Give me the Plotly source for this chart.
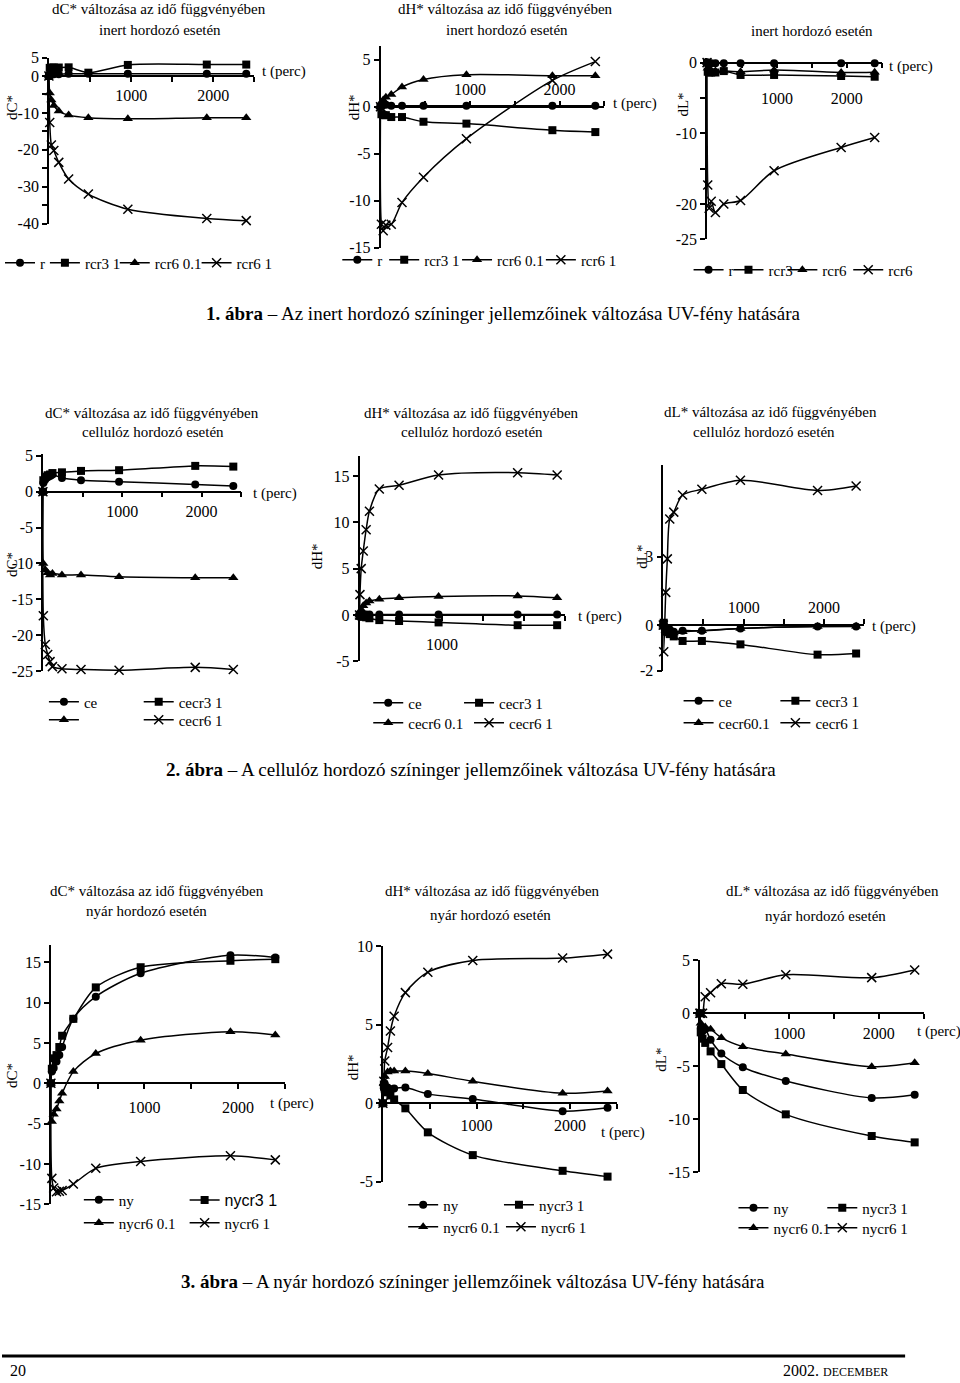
import plotly.graph_objects as go

W, H = 960, 1383
SERIF = "Liberation Serif"
SANS = "Liberation Sans"

# ---------------- data (time in minutes) ----------------
# Figure 1 - inert carrier
T_IN = [0, 10, 30, 60, 120, 240, 480, 960, 1920, 2400]
IN_C_R = [0, 0.4, 0.5, 0.5, 0.5, 0.6, 0.6, 0.6, 0.6, 0.6]
IN_C_RCR3 = [0, 2.2, 2.3, 2.3, 2.3, 2.35, 0.9, 3.0, 3.1, 3.1]
IN_C_RCR6_01 = [0, -4.6, -6.5, -8.0, -9.5, -10.6, -11.3, -11.6, -11.3, -11.3]
IN_C_RCR6_1 = [0, -12.6, -18.7, -20.2, -23.4, -27.9, -32.0, -36.1, -38.6, -39.2]

IN_H_R = [0, 0.2, 0.3, 0.2, 0.1, 0.1, 0.1, 0.1, 0.1, 0.1]
IN_H_RCR3 = [0, -0.8, -0.9, -0.9, -1.1, -1.1, -1.6, -1.8, -2.5, -2.7]
IN_H_RCR6_01 = [0, 0.4, 0.7, 1.0, 1.3, 2.1, 2.9, 3.4, 3.3, 3.3]
IN_H_RCR6_1 = [0, -12.5, -13.2, -12.6, -12.5, -10.2, -7.5, -3.4, 2.8, 4.8]

IN_L_R = [0, -0.1, -0.1, -0.1, -0.1, -0.1, -0.1, -0.1, -0.1, -0.1]
IN_L_RCR3 = [0, -1.3, -1.4, -1.4, -1.4, -1.2, -1.75, -1.75, -1.9, -2.0]
IN_L_RCR6_01 = [0, -0.8, -1.0, -1.1, -1.2, -1.2, -1.3, -1.05, -1.4, -1.35]
IN_L_RCR6_1 = [0, -17.3, -20.6, -19.6, -21.2, -20.0, -19.5, -15.3, -12.0, -10.6]

# Figure 2 - cellulose carrier
T_CE_C = [0, 5, 30, 60, 90, 120, 240, 480, 960, 1920, 2400]
CE_C_CE = [0, 1.2, 1.7, 2.0, 2.2, 2.4, 1.9, 1.6, 1.4, 1.0, 0.8]
CE_C_CR3 = [0, 1.6, 2.1, 2.3, 2.4, 2.6, 2.7, 2.9, 3.0, 3.6, 3.5]
CE_C_CR6_01 = [0, -10.0, -10.9, -11.3, -11.6, -11.4, -11.6, -11.6, -11.85, -12.0, -12.0]
CE_C_CR6_1 = [0, -17.3, -21.3, -22.7, -23.7, -24.4, -24.7, -24.8, -24.9, -24.5, -24.8]

T_CE_H = [0, 5, 20, 45, 80, 120, 240, 480, 960, 1920, 2400]
CE_H_CE = [0, 0.0, 0.05, 0.05, 0.05, 0.05, 0.05, 0.05, 0.05, 0.05, 0.05]
CE_H_CR3 = [0, -0.1, -0.15, -0.2, -0.25, -0.35, -0.55, -0.65, -0.8, -1.1, -1.1]
CE_H_CR6_01 = [0, 0.3, 0.6, 1.0, 1.3, 1.5, 1.7, 1.85, 2.0, 2.05, 1.85]
CE_H_CR6_1 = [0, 2.2, 5.0, 6.9, 9.2, 11.2, 13.6, 14.0, 15.1, 15.35, 15.1]

T_CE_L = [0, 5, 30, 50, 80, 130, 240, 480, 960, 1920, 2400]
CE_L_CE = [0, -0.05, -0.1, -0.15, -0.2, -0.3, -0.25, -0.25, -0.15, -0.07, -0.07]
CE_L_CR3 = [0, 0.1, -0.2, -0.3, -0.4, -0.5, -0.7, -0.7, -0.85, -1.3, -1.25]
CE_L_CR6_01 = [0, -0.1, -0.25, -0.35, -0.4, -0.35, -0.3, -0.25, -0.15, -0.07, -0.05]
CE_L_CR6_1 = [0, -1.17, 1.43, 2.9, 4.65, 4.95, 5.7, 5.95, 6.35, 5.9, 6.1]

# Figure 3 - poplar (nyár) carrier
T_NY_C = [0, 10, 30, 60, 90, 120, 240, 480, 960, 1920, 2400]
NY_C_NY = [0, 1.45, 1.9, 2.7, 3.5, 4.5, 8.0, 10.75, 13.65, 15.9, 15.6]
NY_C_CR3 = [0, 1.8, 3.1, 3.5, 4.5, 5.9, 8.0, 11.9, 14.4, 15.2, 15.4]
NY_C_CR6_01 = [0, -4.75, -3.85, -3.2, -2.2, -1.25, 1.45, 3.7, 5.35, 6.4, 6.0]
NY_C_CR6_1 = [0, -11.8, -13.0, -13.45, -13.4, -13.3, -12.5, -10.55, -9.7, -9.0, -9.5]

T_NY_H = [0, 10, 20, 50, 80, 120, 240, 480, 960, 1920, 2400]
NY_H_NY = [0, 0.95, 1.25, 1.0, 0.9, 0.95, 1.0, 0.6, 0.27, -0.5, -0.28]
NY_H_CR3 = [0, 1.2, 0.9, 0.7, 0.5, 0.25, -0.32, -1.85, -3.3, -4.3, -4.67]
NY_H_CR6_01 = [0, 1.3, 1.7, 2.0, 2.05, 2.05, 2.05, 1.9, 1.4, 0.64, 0.78]
NY_H_CR6_1 = [0, 1.4, 2.7, 3.55, 4.6, 5.55, 7.05, 8.35, 9.1, 9.25, 9.5]

T_NY_L = [0, 10, 30, 60, 120, 240, 480, 960, 1920, 2400]
NY_L_NY = [0, -1.4, -1.7, -1.5, -2.5, -3.8, -5.1, -6.4, -8.0, -7.7]
NY_L_CR3 = [0, -1.8, -2.4, -2.8, -3.6, -4.8, -7.25, -9.55, -11.6, -12.2]
NY_L_CR6_01 = [0, -0.95, -1.3, -1.3, -1.5, -2.3, -3.15, -3.85, -5.05, -4.67]
NY_L_CR6_1 = [0, 0.0, 0.0, 1.57, 1.95, 2.8, 2.75, 3.65, 3.37, 4.1]

X_TICKS = [500, 1000, 1500, 2000, 2500]
X_LABELS_12 = ["", "1000", "", "2000", ""]
X_LABELS_1 = ["", "1000", "", "", ""]

TITLE_C = "dC* változása az idő függvényében"
TITLE_H = "dH* változása az idő függvényében"
TITLE_L = "dL* változása az idő függvényében"

# ---------------- panel layout (pixel geometry) ----------------
PANELS = [
    dict(series=[("r", T_IN, IN_C_R, "o"), ("rcr3 1", T_IN, IN_C_RCR3, "s"),
                 ("rcr6 0.1", T_IN, IN_C_RCR6_01, "^"), ("rcr6 1", T_IN, IN_C_RCR6_1, "x")],
         leg=[(3, 263), (48, 263), (118, 263), (200, 263)],
         ax0=47, sx=0.0824, yz=76, sy=3.69, yr=(-40, 5),
         ytv=[5, 0, -5, -10, -15, -20, -25, -30, -35, -40],
         ytt=["5", "0", "", "-10", "", "-20", "", "-30", "", "-40"],
         xtt=X_LABELS_12, side="bottom", so=0,
         titles=[(TITLE_C, 157, 9), ("inert hordozó esetén", 158, 30)],
         ylab=("dC*", 10, 107), tlab=(259, 72)),
    dict(series=[("r", T_IN, IN_H_R, "o"), ("rcr3 1", T_IN, IN_H_RCR3, "s"),
                 ("rcr6 0.1", T_IN, IN_H_RCR6_01, "^"), ("rcr6 1", T_IN, IN_H_RCR6_1, "x")],
         leg=[(341, 260), (388, 260), (461, 260), (545, 260)],
         ax0=379.3, sx=0.0897, yz=106.7, sy=9.4, yr=(-15, 6.5),
         ytv=[5, 0, -5, -10, -15], ytt=["5", "0", "-5", "-10", "-15"],
         xtt=X_LABELS_12, side="top", so=0,
         titles=[(TITLE_H, 505, 9), ("inert hordozó esetén", 506, 30)],
         ylab=("dH*", 353, 107), tlab=(610, 104)),
    dict(series=[("r", T_IN, IN_L_R, "o"), ("rcr3", T_IN, IN_L_RCR3, "s"),
                 ("rcr6", T_IN, IN_L_RCR6_01, "^"), ("rcr6", T_IN, IN_L_RCR6_1, "x")],
         leg=[(693, 270), (733, 270), (787, 270), (853, 270)],
         ax0=706.5, sx=0.07, yz=62.6, sy=7.07, yr=(-25, 0.7),
         ytv=[0, -5, -10, -15, -20, -25], ytt=["0", "", "-10", "", "-20", "-25"],
         xtt=X_LABELS_12, side="bottom", so=16,
         titles=[("inert hordozó esetén", 812, 31)],
         ylab=("dL*", 682, 105), tlab=(887, 67)),
    dict(series=[("ce", T_CE_C, CE_C_CE, "o"), ("cecr3 1", T_CE_C, CE_C_CR3, "s"),
                 (" ", T_CE_C, CE_C_CR6_01, "^"), ("cecr6 1", T_CE_C, CE_C_CR6_1, "x")],
         leg=[(47, 702), (142, 702), (47, 720), (142, 720)],
         ax0=41, sx=0.0795, yz=491.7, sy=7.17, yr=(-25, 5.2),
         ytv=[5, 0, -5, -10, -15, -20, -25], ytt=["5", "0", "-5", "-10", "-15", "-20", "-25"],
         xtt=X_LABELS_12, side="bottom", so=0,
         titles=[(TITLE_C, 150, 413), ("cellulóz hordozó esetén", 151, 432)],
         ylab=("dC*", 10, 564), tlab=(250, 494)),
    dict(series=[("ce", T_CE_H, CE_H_CE, "o"), ("cecr3 1", T_CE_H, CE_H_CR3, "s"),
                 ("cecr6 0.1", T_CE_H, CE_H_CR6_01, "^"), ("cecr6 1", T_CE_H, CE_H_CR6_1, "x")],
         leg=[(372, 703), (463, 703), (372, 723), (473, 723)],
         ax0=358.3, sx=0.0825, yz=615, sy=9.27, yr=(-5, 17.1),
         ytv=[15, 10, 5, 0, -5], ytt=["15", "10", "5", "0", "-5"],
         xtt=X_LABELS_1, side="bottom", so=10,
         titles=[(TITLE_H, 470, 413), ("cellulóz hordozó esetén", 471, 432)],
         ylab=("dH*", 316, 556), tlab=(575, 617)),
    dict(series=[("ce", T_CE_L, CE_L_CE, "o"), ("cecr3 1", T_CE_L, CE_L_CR3, "s"),
                 ("cecr60.1", T_CE_L, CE_L_CR6_01, "^"), ("cecr6 1", T_CE_L, CE_L_CR6_1, "x")],
         leg=[(683, 701), (780, 701), (683, 723), (780, 723)],
         ax0=662.7, sx=0.0805, yz=625, sy=22.8, yr=(-2, 7),
         ytv=[3, 0, -2], ytt=["3", "0", "-2"],
         xtt=X_LABELS_12, side="top", so=0,
         titles=[(TITLE_L, 770, 412), ("cellulóz hordozó esetén", 764, 432)],
         ylab=("dL*", 641, 557), tlab=(870, 627)),
    dict(series=[("ny", T_NY_C, NY_C_NY, "o"), ("nycr3 1", T_NY_C, NY_C_CR3, "s"),
                 ("nycr6 0.1", T_NY_C, NY_C_CR6_01, "^"), ("nycr6 1", T_NY_C, NY_C_CR6_1, "x")],
         leg=[(82, 1200), (188, 1200), (82, 1223), (188, 1223)],
         ax0=49, sx=0.0937, yz=1083.3, sy=8.06, yr=(-15, 17.1),
         ytv=[15, 10, 5, 0, -5, -10, -15], ytt=["15", "10", "5", "0", "-5", "-10", "-15"],
         xtt=X_LABELS_12, side="bottom", so=5,
         titles=[(TITLE_C, 155, 891), ("nyár hordozó esetén", 145, 911)],
         ylab=("dC*", 10, 1075), tlab=(267, 1103)),
    dict(series=[("ny", T_NY_H, NY_H_NY, "o"), ("nycr3 1", T_NY_H, NY_H_CR3, "s"),
                 ("nycr6 0.1", T_NY_H, NY_H_CR6_01, "^"), ("nycr6 1", T_NY_H, NY_H_CR6_1, "x")],
         leg=[(407, 1205), (503, 1205), (407, 1227), (505, 1227)],
         ax0=381.7, sx=0.0938, yz=1103.3, sy=15.7, yr=(-5, 10),
         ytv=[10, 5, 0, -5], ytt=["10", "5", "0", "-5"],
         xtt=X_LABELS_12, side="bottom", so=3,
         titles=[(TITLE_H, 492, 891), ("nyár hordozó esetén", 490, 915)],
         ylab=("dH*", 352, 1067), tlab=(598, 1132)),
    dict(series=[("ny", T_NY_L, NY_L_NY, "o"), ("nycr3 1", T_NY_L, NY_L_CR3, "s"),
                 ("nycr6 0.1", T_NY_L, NY_L_CR6_01, "^"), ("nycr6 1", T_NY_L, NY_L_CR6_1, "x")],
         leg=[(738, 1208), (827, 1208), (738, 1228), (827, 1228)],
         ax0=699.3, sx=0.0897, yz=1013.3, sy=10.58, yr=(-15, 5),
         ytv=[5, 0, -5, -10, -15], ytt=["5", "0", "-5", "-10", "-15"],
         xtt=X_LABELS_12, side="bottom", so=1,
         titles=[(TITLE_L, 832, 891), ("nyár hordozó esetén", 825, 916)],
         ylab=("dL*", 660, 1060), tlab=(915, 1031)),
]


def marker(kind):
    if kind == "o":
        return dict(symbol="circle", size=8, color="black", line=dict(width=0))
    if kind == "s":
        return dict(symbol="square", size=8, color="black", line=dict(width=0))
    if kind == "^":
        return dict(symbol="triangle-up", size=9, color="black", line=dict(width=0))
    return dict(symbol="x-thin", size=9, color="black", line=dict(width=1.5, color="black"))


fig = go.Figure()
layout = dict(width=W, height=H, margin=dict(l=0, r=0, t=0, b=0), autosize=False,
              paper_bgcolor="white", plot_bgcolor="rgba(0,0,0,0)", template="none",
              font=dict(family=SERIF, size=15, color="black"))
annotations = []


def ann(text, x, y, size=15, xanchor="center", angle=0, family=SERIF):
    annotations.append(dict(text=text, x=x / W, y=1 - y / H, xref="paper", yref="paper",
                            xanchor=xanchor, yanchor="middle", showarrow=False, textangle=angle,
                            font=dict(family=family, size=size, color="black")))


leg_n = 0
XMAX = 2500
for i, p in enumerate(PANELS):
    k = "" if i == 0 else str(i + 1)
    xa, ya = "x" + k, "y" + k
    ymin, ymax = p["yr"]
    top_px = p["yz"] - ymax * p["sy"]
    bot_px = p["yz"] - ymin * p["sy"]
    x1_px = p["ax0"] + XMAX * p["sx"]
    axis_style = dict(showline=True, linecolor="black", linewidth=1.5, ticks="outside",
                      ticklen=5, tickwidth=1.5, tickcolor="black", showgrid=False,
                      zeroline=False, tickfont=dict(family=SERIF, size=16, color="black"),
                      fixedrange=True)
    layout["xaxis" + k] = dict(domain=[p["ax0"] / W, x1_px / W], range=[0, XMAX],
                               anchor="free", position=1 - p["yz"] / H, side=p["side"],
                               tickmode="array", tickvals=X_TICKS, ticktext=p["xtt"],
                               ticklabelstandoff=p["so"], **axis_style)
    layout["yaxis" + k] = dict(domain=[1 - bot_px / H, 1 - top_px / H], range=[ymin, ymax],
                               anchor=xa, side="left", tickmode="array",
                               tickvals=p["ytv"], ticktext=p["ytt"], **axis_style)
    for (name, tt, yy, kind), (lx, ly) in zip(p["series"], p["leg"]):
        leg_n += 1
        lkey = "legend" if leg_n == 1 else "legend%d" % leg_n
        lfont = dict(family=SERIF, size=15, color="black")
        if name == "nycr3 1" and i == 6:
            lfont = dict(family=SANS, size=16, color="black")
        layout[lkey] = dict(x=(lx - 5) / W, y=1 - ly / H, xanchor="left", yanchor="middle",
                            orientation="h", bgcolor="rgba(0,0,0,0)", borderwidth=0,
                            font=lfont)
        fig.add_trace(go.Scatter(x=tt, y=yy, mode="lines+markers", name=name,
                                 line=dict(color="black", width=1.5, shape="spline", smoothing=0.8),
                                 marker=marker(kind), xaxis=xa, yaxis=ya, legend=lkey,
                                 cliponaxis=False, hoverinfo="skip", showlegend=True))
    for text, tx, ty in p["titles"]:
        ann(text, tx, ty, size=15)
    yl, yx, yy_ = p["ylab"]
    ann(yl, yx, yy_, size=15, angle=-90)
    ann("t (perc)", p["tlab"][0], p["tlab"][1], size=15, xanchor="left")

# captions
ann("<b>1. ábra</b> – Az inert hordozó színinger jellemzőinek változása UV-fény hatására", 502, 313, size=19)
ann("<b>2. ábra</b> – A cellulóz hordozó színinger jellemzőinek változása UV-fény hatására", 470, 770, size=19)
ann("<b>3. ábra</b> – A nyár hordozó színinger jellemzőinek változása UV-fény hatására", 472, 1281, size=19)
# footer
ann("20", 6, 1370, size=16, xanchor="left")
annotations.append(dict(text="2002. <span style='font-size:12px'>DECEMBER</span>", x=890 / W,
                        y=1 - 1370 / H, xref="paper", yref="paper", xanchor="right",
                        yanchor="middle", showarrow=False,
                        font=dict(family=SERIF, size=16, color="black")))
layout["annotations"] = annotations
layout["shapes"] = [dict(type="line", xref="paper", yref="paper", x0=0, x1=905 / W,
                         y0=1 - 1356 / H, y1=1 - 1356 / H, line=dict(color="black", width=3))]

fig.update_layout(**layout)
fig.write_html("out.html")
